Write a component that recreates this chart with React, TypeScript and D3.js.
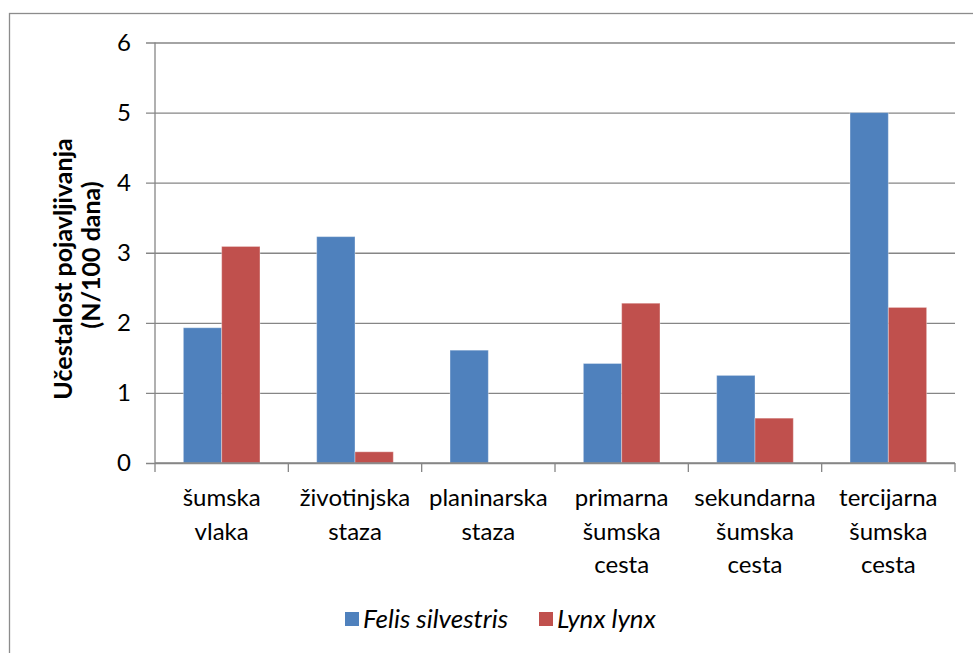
import React, { useEffect, useRef } from "react";
import * as d3 from "d3";

const categories = [
  ["šumska", "vlaka"],
  ["životinjska", "staza"],
  ["planinarska", "staza"],
  ["primarna", "šumska", "cesta"],
  ["sekundarna", "šumska", "cesta"],
  ["tercijarna", "šumska", "cesta"],
];
const seriesNames = ["Felis silvestris", "Lynx lynx"];
const felisValues = [1.93, 3.23, 1.61, 1.42, 1.25, 5.0];
const lynxValues = [3.09, 0.16, 0, 2.28, 0.64, 2.22];
const yTicks = [0, 1, 2, 3, 4, 5, 6];
const yTitle = ["Učestalost pojavljivanja", "(N/100 dana)"];

const colors = ["#4F81BD", "#C0504D"];
const FONT = "Lato, 'Open Sans', sans-serif";

const App = () => {
  const svgRef = useRef(null);

  useEffect(() => {
    const svg = d3.select(svgRef.current);
    svg.selectAll("*").remove();

    const W = 973;
    const H = 653;
    const plot = { left: 155, right: 955, top: 42.5, bottom: 463 };

    svg.attr("width", W).attr("height", H).attr("viewBox", `0 0 ${W} ${H}`);

    // chart area border
    svg
      .append("rect")
      .attr("x", 9.5)
      .attr("y", 13.5)
      .attr("width", 1000)
      .attr("height", 700)
      .attr("fill", "#fff")
      .attr("stroke", "#8c8c8c")
      .attr("stroke-width", 1.3);

    const keys = categories.map((c) => c.join(" "));
    const x0 = d3.scaleBand().domain(keys).range([plot.left, plot.right]).padding(0);
    const x1 = d3
      .scaleBand()
      .domain(seriesNames)
      .range([0, x0.bandwidth()])
      .paddingInner(0)
      .paddingOuter(0.74);
    const y = d3.scaleLinear().domain([0, 6]).range([plot.bottom, plot.top]);

    // horizontal gridlines + y ticks
    const yAxis = d3
      .axisLeft(y)
      .tickValues(yTicks)
      .tickSize(-(plot.right - plot.left))
      .tickSizeOuter(0)
      .tickPadding(0)
      .tickFormat((d) => String(d));

    svg
      .append("g")
      .attr("transform", `translate(${plot.left},0)`)
      .call(yAxis)
      .call((g) => g.select(".domain").remove())
      .call((g) =>
        g
          .selectAll(".tick line")
          .attr("x1", -9)
          .attr("stroke", "#868686")
          .attr("stroke-width", 1.3),
      )
      .call((g) =>
        g
          .selectAll(".tick text")
          .attr("x", -24)
          .attr("fill", "#000")
          .style("font-family", FONT)
          .style("font-size", "24px"),
      );

    // bars
    const data = keys.map((k, i) => ({
      key: k,
      values: [felisValues[i], lynxValues[i]],
    }));

    const groups = svg
      .append("g")
      .selectAll("g")
      .data(data)
      .join("g")
      .attr("transform", (d) => `translate(${x0(d.key)},0)`);

    groups
      .selectAll("rect")
      .data((d) => d.values.map((v, j) => ({ name: seriesNames[j], v, j })))
      .join("rect")
      .attr("x", (d) => x1(d.name))
      .attr("width", x1.bandwidth())
      .attr("y", (d) => y(d.v))
      .attr("height", (d) => y(0) - y(d.v))
      .attr("fill", (d) => colors[d.j])
      .attr("stroke", "rgba(255,255,255,0.35)")
      .attr("stroke-width", 1);

    // y axis line
    svg
      .append("line")
      .attr("x1", plot.left)
      .attr("x2", plot.left)
      .attr("y1", plot.top)
      .attr("y2", plot.bottom)
      .attr("stroke", "#868686")
      .attr("stroke-width", 1.3);

    // x axis line and category ticks
    svg
      .append("line")
      .attr("x1", plot.left)
      .attr("x2", plot.right)
      .attr("y1", plot.bottom)
      .attr("y2", plot.bottom)
      .attr("stroke", "#868686")
      .attr("stroke-width", 1.3);

    const boundaries = keys.map((k) => x0(k)).concat([plot.right]);
    svg
      .append("g")
      .selectAll("line")
      .data(boundaries)
      .join("line")
      .attr("x1", (d) => d)
      .attr("x2", (d) => d)
      .attr("y1", plot.bottom)
      .attr("y2", plot.bottom + 9)
      .attr("stroke", "#868686")
      .attr("stroke-width", 1.3);

    // category labels
    const labels = svg
      .append("g")
      .style("font-family", FONT)
      .style("font-size", "24px")
      .attr("text-anchor", "middle")
      .attr("fill", "#000")
      .selectAll("text")
      .data(categories)
      .join("text")
      .attr("x", (d) => x0(d.join(" ")) + x0.bandwidth() / 2)
      .attr("y", 506);

    labels
      .selectAll("tspan")
      .data((d) => d)
      .join("tspan")
      .attr("x", function () {
        return d3.select(this.parentNode).attr("x");
      })
      .attr("dy", (d, i) => (i === 0 ? 0 : 33.5))
      .text((d) => d);

    // y axis title
    const titleCenters = [-269, -255];
    svg
      .append("g")
      .attr("transform", "rotate(-90)")
      .style("font-family", FONT)
      .style("font-size", "25px")
      .style("font-weight", "bold")
      .attr("text-anchor", "middle")
      .selectAll("text")
      .data(yTitle)
      .join("text")
      .attr("x", (d, i) => titleCenters[i])
      .attr("y", (d, i) => 72 + i * 28)
      .text((d) => d);

    // legend
    const legendItems = [
      { name: seriesNames[0], color: colors[0], x: 345 },
      { name: seriesNames[1], color: colors[1], x: 539 },
    ];
    const lg = svg
      .append("g")
      .selectAll("g")
      .data(legendItems)
      .join("g")
      .attr("transform", (d) => `translate(${d.x},612)`);

    lg.append("rect")
      .attr("width", 14)
      .attr("height", 14)
      .attr("fill", (d) => d.color);

    lg.append("text")
      .attr("x", 18)
      .attr("y", 16)
      .style("font-family", FONT)
      .style("font-size", "26px")
      .style("font-style", "italic")
      .attr("fill", "#000")
      .text((d) => d.name);
  }, []);

  return (
    <svg
      ref={svgRef}
      style={{ position: "absolute", left: 0, top: 0, display: "block" }}
    />
  );
};

export default App;
